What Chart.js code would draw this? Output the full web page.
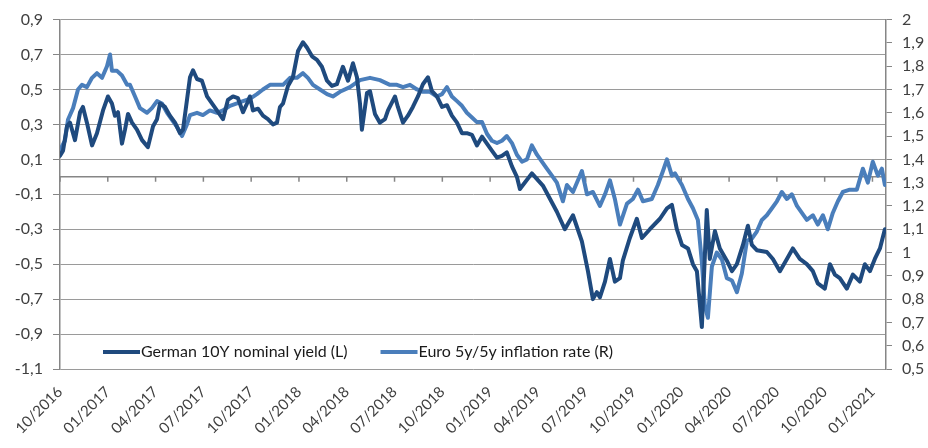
<!DOCTYPE html>
<html lang="en">
<head>
  <meta charset="UTF-8" />
  <title>German 10Y yield vs Euro 5y/5y inflation</title>
  <script src="https://cdn.jsdelivr.net/npm/chart.js"></script>
  <style>
    body { margin: 0; background: #ffffff; }
    canvas { display: block; }
  </style>
</head>
<body>
  <canvas id="yieldChart" width="928" height="448"></canvas>

  <script>
    // quarter labels, x values are months since 10/2016
    const tickLabels = ['10/2016', '01/2017', '04/2017', '07/2017', '10/2017', '01/2018', '04/2018', '07/2018', '10/2018',
      '01/2019', '04/2019', '07/2019', '10/2019', '01/2020', '04/2020', '07/2020', '10/2020', '01/2021'];
    const tickMonths = tickLabels.map((_, i) => i * 3);

    const bundMonths = [
      0, 0.19, 0.44, 0.63, 0.94, 1.26, 1.44, 1.69, 2.01, 2.32,
      2.70, 3.01, 3.26, 3.45, 3.64, 3.89, 4.08, 4.27, 4.52, 4.83,
      5.15, 5.52, 5.84, 6.09, 6.28, 6.59, 6.90, 7.22, 7.53, 7.72,
      7.97, 8.16, 8.35, 8.60, 8.91, 9.23, 9.54, 9.85, 10.23, 10.54,
      10.86, 11.17, 11.49, 11.74, 11.92, 12.11, 12.43, 12.74, 13.05, 13.37,
      13.62, 13.81, 14.00, 14.31, 14.62, 14.94, 15.25, 15.50, 15.82, 16.13,
      16.44, 16.76, 17.07, 17.38, 17.76, 18.08, 18.39, 18.64, 18.83, 18.95,
      19.27, 19.46, 19.77, 20.08, 20.40, 20.59, 21.03, 21.21, 21.53, 21.84,
      22.15, 22.47, 22.78, 23.10, 23.35, 23.66, 23.98, 24.29, 24.60, 24.92,
      25.23, 25.54, 25.86, 26.17, 26.49, 26.80, 27.11, 27.43, 27.74, 28.05,
      28.37, 28.68, 28.87, 29.62, 30.31, 31.19, 31.69, 32.20, 32.76, 33.14,
      33.45, 33.70, 33.89, 34.21, 34.52, 34.83, 35.15, 35.33, 35.77, 36.21,
      36.53, 37.03, 37.66, 38.10, 38.41, 38.72, 39.04, 39.42, 39.73, 39.98,
      40.29, 40.60, 40.79, 41.11, 41.42, 41.86, 42.18, 42.49, 42.87, 43.18,
      43.43, 43.74, 44.37, 44.75, 45.19, 45.63, 46.00, 46.44, 46.88, 47.26,
      47.57, 48.01, 48.33, 48.64, 48.95, 49.39, 49.77, 50.21, 50.52, 50.84,
      51.15, 51.47, 51.78
    ];
    const bundYield = [
      0.12, 0.15, 0.29, 0.31, 0.21, 0.37, 0.40, 0.31, 0.18, 0.25,
      0.38, 0.46, 0.42, 0.35, 0.37, 0.19, 0.27, 0.36, 0.31, 0.27,
      0.21, 0.17, 0.29, 0.33, 0.42, 0.40, 0.35, 0.31, 0.25, 0.27,
      0.44, 0.57, 0.61, 0.56, 0.55, 0.46, 0.42, 0.38, 0.33, 0.44,
      0.46, 0.45, 0.37, 0.42, 0.46, 0.38, 0.39, 0.35, 0.33, 0.30,
      0.31, 0.40, 0.42, 0.52, 0.57, 0.72, 0.77, 0.74, 0.69, 0.67,
      0.63, 0.55, 0.52, 0.53, 0.63, 0.55, 0.65, 0.57, 0.42, 0.27,
      0.48, 0.49, 0.36, 0.31, 0.33, 0.38, 0.46, 0.40, 0.31, 0.35,
      0.40, 0.46, 0.53, 0.57, 0.49, 0.46, 0.40, 0.41, 0.35, 0.31,
      0.25, 0.25, 0.24, 0.18, 0.23, 0.19, 0.15, 0.11, 0.12, 0.14,
      0.06, 0.00, -0.07, 0.02, -0.05, -0.20, -0.30, -0.22, -0.37, -0.54,
      -0.70, -0.66, -0.69, -0.60, -0.47, -0.60, -0.58, -0.48, -0.35, -0.24,
      -0.35, -0.30, -0.24, -0.18, -0.16, -0.30, -0.39, -0.41, -0.50, -0.54,
      -0.86, -0.19, -0.47, -0.31, -0.41, -0.48, -0.54, -0.50, -0.39, -0.28,
      -0.39, -0.42, -0.43, -0.47, -0.54, -0.47, -0.41, -0.47, -0.50, -0.54,
      -0.61, -0.64, -0.50, -0.56, -0.58, -0.64, -0.56, -0.60, -0.50, -0.54,
      -0.47, -0.41, -0.30
    ];

    const inflMonths = [
      0, 0.31, 0.50, 0.82, 1.13, 1.38, 1.69, 2.01, 2.32, 2.64,
      2.95, 3.14, 3.26, 3.58, 3.89, 4.21, 4.39, 4.71, 5.02, 5.46,
      5.77, 6.09, 6.40, 6.72, 7.03, 7.34, 7.66, 7.97, 8.16, 8.60,
      8.97, 9.41, 9.85, 10.23, 10.67, 11.11, 11.49, 11.92, 12.36, 12.74,
      13.18, 13.62, 14.00, 14.44, 14.87, 15.25, 15.56, 15.88, 16.32, 16.76,
      17.13, 17.57, 18.20, 18.83, 19.46, 20.08, 20.71, 21.15, 21.53, 21.97,
      22.41, 22.78, 23.22, 23.66, 23.98, 24.29, 24.60, 24.92, 25.23, 25.54,
      25.86, 26.17, 26.49, 26.80, 27.11, 27.43, 27.74, 28.05, 28.37, 28.68,
      29.00, 29.31, 29.62, 29.94, 30.25, 30.56, 30.88, 31.19, 31.57, 31.82,
      32.20, 32.76, 33.08, 33.45, 33.89, 34.21, 34.52, 34.83, 35.15, 35.59,
      35.96, 36.28, 36.59, 37.15, 37.53, 37.85, 38.10, 38.41, 38.60, 39.04,
      39.42, 39.73, 40.04, 40.29, 40.48, 40.67, 40.92, 41.23, 41.55, 41.86,
      42.18, 42.49, 42.80, 43.12, 43.43, 43.74, 44.06, 44.37, 44.69, 45.00,
      45.31, 45.63, 45.94, 46.26, 46.57, 46.88, 47.26, 47.57, 47.89, 48.20,
      48.51, 48.83, 49.14, 49.58, 50.02, 50.40, 50.71, 51.02, 51.34, 51.59,
      51.78
    ];
    const inflRate = [
      1.44, 1.48, 1.57, 1.62, 1.70, 1.72, 1.71, 1.75, 1.77, 1.75,
      1.80, 1.85, 1.78, 1.78, 1.76, 1.72, 1.72, 1.67, 1.62, 1.60,
      1.62, 1.65, 1.64, 1.60, 1.57, 1.54, 1.50, 1.55, 1.59, 1.60,
      1.59, 1.61, 1.60, 1.61, 1.63, 1.64, 1.65, 1.66, 1.68, 1.70,
      1.72, 1.72, 1.72, 1.75, 1.75, 1.77, 1.75, 1.72, 1.70, 1.68,
      1.67, 1.69, 1.71, 1.74, 1.75, 1.74, 1.72, 1.72, 1.71, 1.72,
      1.70, 1.69, 1.69, 1.67, 1.68, 1.71, 1.67, 1.65, 1.63, 1.60,
      1.58, 1.56, 1.56, 1.51, 1.48, 1.47, 1.48, 1.50, 1.47, 1.42,
      1.39, 1.40, 1.46, 1.42, 1.39, 1.36, 1.33, 1.30, 1.22, 1.29,
      1.26, 1.35, 1.25, 1.26, 1.20, 1.25, 1.31, 1.23, 1.12, 1.21,
      1.23, 1.27, 1.22, 1.23, 1.29, 1.35, 1.40, 1.33, 1.34, 1.29,
      1.23, 1.19, 1.14, 0.96, 0.77, 0.72, 0.94, 1.00, 0.97, 0.89,
      0.88, 0.83, 0.91, 1.05, 1.06, 1.09, 1.14, 1.16, 1.19, 1.22,
      1.26, 1.23, 1.25, 1.20, 1.17, 1.14, 1.16, 1.12, 1.16, 1.10,
      1.17, 1.22, 1.26, 1.27, 1.27, 1.36, 1.30, 1.39, 1.33, 1.36,
      1.29
    ];

    const darkBlue = '#1F4A7E';
    const lightBlue = '#4A7EBB';
    const axisGrey = '#868686';

    const comma = v => String(Number(v.toFixed(1))).replace('.', ',');

    Chart.defaults.font.family = 'Lato, sans-serif';
    Chart.defaults.color = '#404040';

    // zero line with the quarter tick marks hanging off it
    const zeroAxis = {
      id: 'zeroAxis',
      beforeDatasetsDraw(chart) {
        const { ctx, chartArea, scales } = chart;
        const y0 = scales.y.getPixelForValue(0);
        ctx.save();
        ctx.strokeStyle = axisGrey;
        ctx.lineWidth = 1.5;
        ctx.beginPath();
        ctx.moveTo(chartArea.left, y0);
        ctx.lineTo(chartArea.right, y0);
        tickMonths.forEach(m => {
          const x = scales.x.getPixelForValue(m);
          ctx.moveTo(x, y0);
          ctx.lineTo(x, y0 + 5);
        });
        ctx.stroke();
        ctx.restore();
      }
    };

    // legend sits inside the plot, near the bottom
    const innerLegend = {
      id: 'innerLegend',
      afterDatasetsDraw(chart) {
        const { ctx, chartArea } = chart;
        const y = chartArea.bottom - 17;
        let x = chartArea.left + 43;
        ctx.save();
        ctx.font = '16px Lato, sans-serif';
        ctx.textBaseline = 'middle';
        chart.data.datasets.forEach(ds => {
          ctx.strokeStyle = ds.borderColor;
          ctx.lineWidth = 4;
          ctx.beginPath();
          ctx.moveTo(x, y);
          ctx.lineTo(x + 37, y);
          ctx.stroke();
          x += 38;
          ctx.fillStyle = '#1a1a1a';
          ctx.fillText(ds.label, x, y);
          x += ctx.measureText(ds.label).width + 33;
        });
        ctx.restore();
      }
    };

    const ctx = document.getElementById('yieldChart').getContext('2d');
    new Chart(ctx, {
      type: 'line',
      data: {
        datasets: [
          {
            label: 'German 10Y nominal yield (L)',
            data: bundMonths.map((m, i) => ({ x: m, y: bundYield[i] })),
            borderColor: darkBlue,
            borderWidth: 4,
            yAxisID: 'y'
          },
          {
            label: 'Euro 5y/5y inflation rate (R)',
            data: inflMonths.map((m, i) => ({ x: m, y: inflRate[i] })),
            borderColor: lightBlue,
            borderWidth: 4,
            yAxisID: 'y1'
          }
        ]
      },
      options: {
        responsive: false,
        animation: false,
        layout: { padding: { top: 15 } },
        elements: {
          point: { radius: 0 },
          line: { tension: 0, borderJoinStyle: 'round', borderCapStyle: 'round' }
        },
        plugins: {
          legend: { display: false },
          tooltip: { enabled: false }
        },
        scales: {
          x: {
            type: 'linear',
            min: 0,
            max: 51.85,
            grid: { display: false },
            border: { display: false },
            afterBuildTicks: s => { s.ticks = tickMonths.map(v => ({ value: v })); },
            afterFit: s => { s.height = 79; },
            ticks: {
              autoSkip: false,
              minRotation: 45,
              maxRotation: 45,
              padding: 6,
              font: { size: 15 },
              callback: v => tickLabels[Math.round(v / 3)]
            }
          },
          y: {
            position: 'left',
            min: -1.1,
            max: 0.9,
            afterFit: s => { s.width = 60; },
            border: { display: true, color: axisGrey, width: 1.5 },
            grid: {
              color: '#9a9a9a',
              borderDash: [2, 2],
              tickLength: 7,
              tickColor: axisGrey,
              tickBorderDash: []
            },
            ticks: { stepSize: 0.2, padding: 10, font: { size: 16 }, callback: comma }
          },
          y1: {
            position: 'right',
            min: 0.5,
            max: 2,
            afterFit: s => { s.width = 42; },
            border: { display: true, color: axisGrey, width: 1.5 },
            grid: { drawOnChartArea: false, tickLength: 6, color: axisGrey },
            ticks: { stepSize: 0.1, padding: 10, font: { size: 16 }, callback: comma }
          }
        }
      },
      plugins: [zeroAxis, innerLegend]
    });
  </script>
</body>
</html>
